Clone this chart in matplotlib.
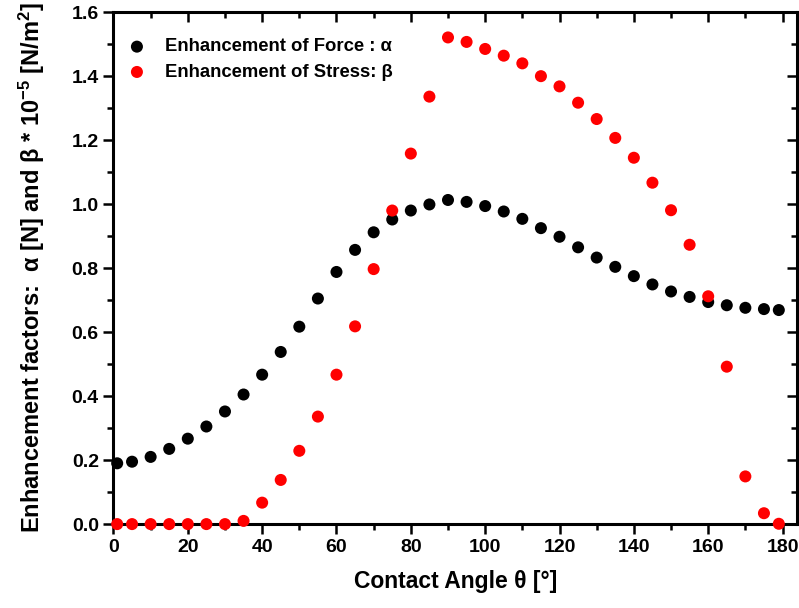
import matplotlib
matplotlib.use("Agg")
import matplotlib.pyplot as plt
from matplotlib.ticker import MultipleLocator

plt.rcParams['font.family'] = ['Liberation Sans', 'DejaVu Sans']
plt.rcParams['font.weight'] = 'bold'
plt.rcParams['mathtext.fontset'] = 'custom'
plt.rcParams['mathtext.rm'] = 'Liberation Sans:bold'
plt.rcParams['mathtext.default'] = 'rm'

# contact angle (degrees)
theta = [1, 5, 10, 15, 20, 25, 30, 35, 40, 45, 50, 55, 60, 65, 70, 75, 80, 85, 90,
         95, 100, 105, 110, 115, 120, 125, 130, 135, 140, 145, 150, 155, 160, 165,
         170, 175, 179]

# enhancement of force, alpha [N]
alpha = [0.190, 0.195, 0.210, 0.235, 0.267, 0.305, 0.352, 0.405, 0.467, 0.538,
         0.617, 0.705, 0.788, 0.857, 0.912, 0.952, 0.980, 0.999, 1.013,
         1.007, 0.994, 0.977, 0.954, 0.925, 0.898, 0.865, 0.833, 0.804, 0.775,
         0.749, 0.727, 0.710, 0.694, 0.684, 0.676, 0.672, 0.669]

# enhancement of stress, beta * 1e-5 [N/m^2]
beta = [0.0, 0.0, 0.0, 0.0, 0.0, 0.0, 0.0, 0.010, 0.067, 0.138,
        0.229, 0.336, 0.467, 0.618, 0.797, 0.980, 1.158, 1.336, 1.521,
        1.507, 1.485, 1.464, 1.440, 1.400, 1.368, 1.317, 1.266, 1.207, 1.145,
        1.067, 0.981, 0.873, 0.712, 0.492, 0.149, 0.034, 0.001]

fig = plt.figure(figsize=(7.99, 6.08), dpi=100)
ax = fig.add_axes([0.142, 0.138, 0.856, 0.842])

ax.scatter(theta, alpha, s=75, color='black', edgecolors='none', zorder=3,
           label='Enhancement of Force : \u03b1', clip_on=False)
ax.scatter(theta, beta, s=75, color='red', edgecolors='none', zorder=3,
           label='Enhancement of Stress: \u03b2', clip_on=False)

ax.set_xlim(0, 184)
ax.set_ylim(0, 1.6)
ax.xaxis.set_major_locator(MultipleLocator(20))
ax.xaxis.set_minor_locator(MultipleLocator(10))
ax.yaxis.set_major_locator(MultipleLocator(0.2))
ax.yaxis.set_minor_locator(MultipleLocator(0.1))
ax.yaxis.set_major_formatter(plt.FormatStrFormatter('%.1f'))

for sp in ax.spines.values():
    sp.set_linewidth(2.2)

ax.tick_params(which='major', direction='out', length=7, width=1.8, labelsize=14)
ax.tick_params(which='minor', direction='out', length=4, width=1.8)

# mirrored ticks on top and right pointing inward
top = ax.secondary_xaxis('top')
top.xaxis.set_major_locator(MultipleLocator(20))
top.xaxis.set_minor_locator(MultipleLocator(10))
top.tick_params(which='major', direction='in', length=7, width=1.8, labeltop=False)
top.tick_params(which='minor', direction='in', length=4, width=1.8)
right = ax.secondary_yaxis('right')
right.yaxis.set_major_locator(MultipleLocator(0.2))
right.yaxis.set_minor_locator(MultipleLocator(0.1))
right.tick_params(which='major', direction='in', length=7, width=1.8, labelright=False)
right.tick_params(which='minor', direction='in', length=4, width=1.8)

ax.set_xlabel('Contact Angle \u03b8 [\u00b0]', fontsize=16.5, fontweight='bold', labelpad=10)
ax.set_ylabel('Enhancement factors:  \u03b1 [N] and \u03b2 * 10$^{-5}$ [N/m$^2$]',
              fontsize=17, fontweight='bold', labelpad=18)

ax.legend(loc='upper left', frameon=False, fontsize=13.3, handlelength=1.0,
          handletextpad=1.0, labelspacing=0.45, borderaxespad=0.0,
          bbox_to_anchor=(0.01, 0.963))

fig.savefig('out.png', dpi=100)
